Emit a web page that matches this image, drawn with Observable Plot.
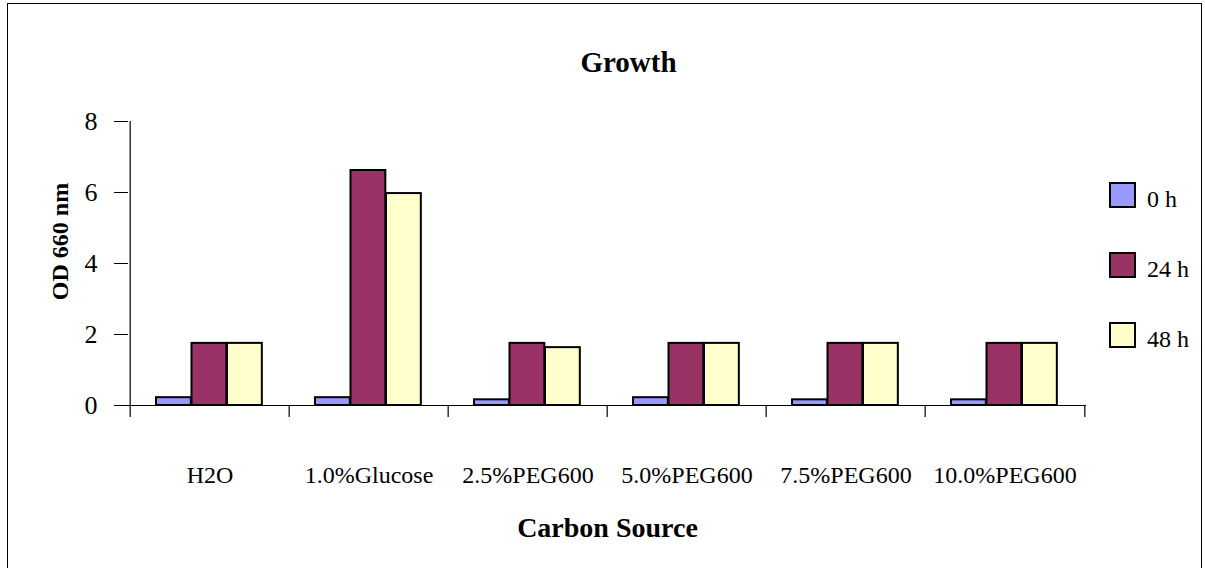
<!DOCTYPE html>
<html>
<head>
<meta charset="utf-8">
<script src="https://cdn.jsdelivr.net/npm/d3@7"></script>
<script src="https://cdn.jsdelivr.net/npm/@observablehq/plot@0.6"></script>
<style>
  body { margin: 0; background: #fff; }
  #chart {
    position: relative; width: 1205px; height: 568px; overflow: hidden;
    font-family: "Liberation Serif", "Times New Roman", serif; color: #000;
  }
  #frame {
    position: absolute; left: 7px; top: 3px; width: 1195px; height: 640px;
    border: 1.5px solid #000; box-sizing: border-box;
  }
  #plot { position: absolute; left: 0; top: 0; }
  #plot g[aria-label="y-axis tick label"] { font-size: 26px; }
  .swatch {
    position: absolute; left: 1109px; width: 27px; height: 26px;
    border: 2px solid #000; box-sizing: border-box;
  }
  .swatch-label {
    position: absolute; left: 1147px; font-size: 24px; line-height: 24px; white-space: nowrap;
  }
</style>
</head>
<body>
<div id="chart">
  <div id="frame"></div>
  <div id="plot"></div>
  <div id="legend"></div>
</div>
<script>
// Carbon sources on the x axis
const categories = ["H2O", "1.0%Glucose", "2.5%PEG600", "5.0%PEG600", "7.5%PEG600", "10.0%PEG600"];

// Sampling times (series) and their fills
const series = ["0 h", "24 h", "48 h"];
const colors = ["#9999FF", "#993366", "#FFFFCC"];

// OD 660 nm readings per carbon source
const od0h  = [0.22, 0.22, 0.16, 0.22, 0.16, 0.16];
const od24h = [1.75, 6.62, 1.75, 1.75, 1.75, 1.75];
const od48h = [1.75, 5.97, 1.63, 1.75, 1.75, 1.75];

const yTicks = [0, 2, 4, 6, 8];

const seriesValues = [od0h, od24h, od48h];
const rows = series.flatMap((s, k) =>
  categories.map((c, i) => ({category: c, series: s, value: seriesValues[k][i]}))
);

// Layout
const W = 1205, H = 568;
const margin = {top: 121, right: 119, bottom: 163, left: 128};
const plotW = W - margin.left - margin.right;
const plotH = H - margin.top - margin.bottom;
const band = plotW / categories.length;     // width of one category slot
const barW = 35.5;                          // width of each bar in a group
const groupPad = 26;                        // gap before the first bar of a group

const font = '"Liberation Serif", "Times New Roman", serif';

// One bar mark per series, each shifted into its place within the category band
const barMarks = series.map((s, k) =>
  Plot.barY(rows.filter(d => d.series === s), {
    x: "category",
    y: "value",
    fill: colors[k],
    stroke: "#000",
    strokeWidth: 2,
    insetLeft: groupPad + k * barW,
    insetRight: band - groupPad - (k + 1) * barW
  })
);

const chart = Plot.plot({
  width: W,
  height: H,
  marginTop: margin.top,
  marginRight: margin.right,
  marginBottom: margin.bottom,
  marginLeft: margin.left,
  style: {fontFamily: font, fontSize: "24px", color: "#000", background: "transparent", overflow: "visible"},
  x: {
    type: "band",
    domain: categories,
    paddingInner: 0,
    paddingOuter: 0,
    tickSize: 0,
    tickPadding: 60,
    label: null
  },
  y: {
    domain: [0, 8],
    ticks: yTicks,
    tickSize: 14,
    tickPadding: 17,
    label: null
  },
  marks: [
    ...barMarks,
    // x axis line
    Plot.ruleY([0], {stroke: "#000", strokeWidth: 1.2}),
    // y axis line, continuing down as the first group separator
    Plot.ruleX([categories[0]], {dx: -band / 2, insetBottom: -12, stroke: "#000", strokeWidth: 1.2}),
    // separators between category groups, below the axis
    Plot.ruleX(categories.slice(1), {dx: -band / 2, insetTop: plotH, insetBottom: -12, stroke: "#000", strokeWidth: 1.2}),
    Plot.ruleX([categories[categories.length - 1]], {dx: band / 2, insetTop: plotH, insetBottom: -12, stroke: "#000", strokeWidth: 1.2}),
    // chart title
    Plot.text(["Growth"], {
      text: d => d, frameAnchor: "top", lineAnchor: "bottom",
      dx: 21, dy: -50, fontSize: 29, fontWeight: "bold"
    }),
    // axis titles
    Plot.text(["Carbon Source"], {
      text: d => d, frameAnchor: "bottom", lineAnchor: "bottom",
      dy: 131, fontSize: 28, fontWeight: "bold"
    }),
    Plot.text(["OD 660 nm"], {
      text: d => d, frameAnchor: "left", textAnchor: "middle", rotate: -90,
      dx: -68, dy: -22, fontSize: 24, fontWeight: "bold"
    })
  ]
});

document.getElementById("plot").appendChild(chart);

// Legend: one swatch per series, stacked on the right
const legend = document.getElementById("legend");
series.forEach((s, k) => {
  const sw = document.createElement("div");
  sw.className = "swatch";
  sw.style.top = (182 + 70 * k) + "px";
  sw.style.background = colors[k];
  legend.appendChild(sw);
  const lb = document.createElement("div");
  lb.className = "swatch-label";
  lb.style.top = (187 + 70 * k) + "px";
  lb.textContent = s;
  legend.appendChild(lb);
});
</script>
</body>
</html>
